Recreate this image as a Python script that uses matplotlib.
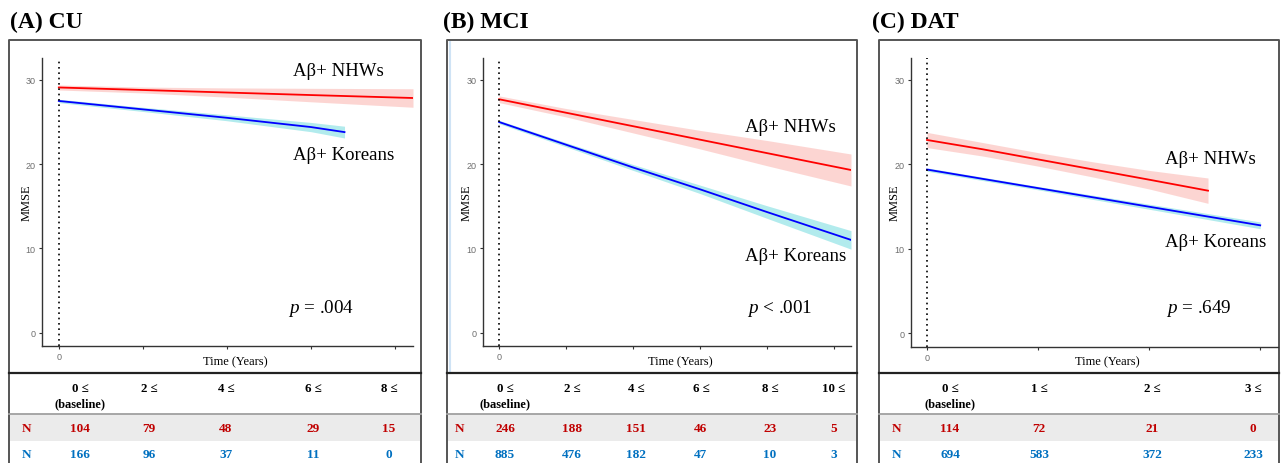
import numpy as np
import matplotlib
matplotlib.use('Agg')
import matplotlib.pyplot as plt
from matplotlib.patches import Rectangle

plt.rcParams['font.family'] = ['Liberation Serif', 'DejaVu Serif']
plt.rcParams['mathtext.fontset'] = 'custom'
plt.rcParams['mathtext.it'] = 'Liberation Serif:italic'
plt.rcParams['mathtext.rm'] = 'Liberation Serif'

W, H = 1282, 464

# ---- data ----
titles = ['(A) CU', '(B) MCI', '(C) DAT']
pvals = ['$p$ = .004', '$p$ < .001', '$p$ = .649']

# panel A
a_t_nhw = [0, 2, 4, 6, 8.43]
a_nhw = [29.1, 28.8, 28.5, 28.2, 27.85]
a_nhw_hw = [0.3, 0.35, 0.55, 0.8, 1.1]
a_t_kor = [0, 2, 4, 6, 6.8]
a_kor = [27.5, 26.5, 25.5, 24.4, 23.8]
a_kor_hw = [0.2, 0.25, 0.35, 0.55, 0.7]
a_ticks = [0, 2, 4, 6, 8]
a_head = ['0 \u2264', '2 \u2264', '4 \u2264', '6 \u2264', '8 \u2264']
a_n_nhw = [104, 79, 48, 29, 15]
a_n_kor = [166, 96, 37, 11, 0]

# panel B
b_t_nhw = [0, 2, 4, 6, 8, 10.5]
b_nhw = [27.7, 26.1, 24.5, 22.9, 21.3, 19.3]
b_nhw_hw = [0.4, 0.5, 0.8, 1.1, 1.5, 1.9]
b_t_kor = [0, 2, 4, 6, 8, 10.5]
b_kor = [25.0, 22.3, 19.6, 17.0, 14.3, 11.0]
b_kor_hw = [0.2, 0.25, 0.35, 0.5, 0.75, 1.1]
b_ticks = [0, 2, 4, 6, 8, 10]
b_head = ['0 \u2264', '2 \u2264', '4 \u2264', '6 \u2264', '8 \u2264', '10 \u2264']
b_n_nhw = [246, 188, 151, 46, 23, 5]
b_n_kor = [885, 476, 182, 47, 10, 3]

# panel C
c_t_nhw = [0, 0.5, 1, 1.5, 2, 2.53]
c_nhw = [22.9, 21.8, 20.6, 19.4, 18.2, 16.9]
c_nhw_hw = [0.9, 0.8, 0.8, 0.9, 1.1, 1.5]
c_t_kor = [0, 1, 2, 3]
c_kor = [19.4, 17.2, 15.0, 12.8]
c_kor_hw = [0.2, 0.2, 0.3, 0.4]
c_ticks = [0, 1, 2, 3]
c_head = ['0 \u2264', '1 \u2264', '2 \u2264', '3 \u2264']
c_n_nhw = [114, 72, 21, 0]
c_n_kor = [694, 583, 372, 233]

# ---- layout (pixels) ----
panels = [
    dict(box=(9, 421), ax=(42, 59, 413, 347), xlim=(-0.4, 8.43), title_x=10, mmse_x=27,
         nhw=(a_t_nhw, a_nhw, a_nhw_hw), kor=(a_t_kor, a_kor, a_kor_hw), ticks=a_ticks,
         lab_nhw=(293, 71), lab_kor=(293, 156), p=(288, 309), time_x=235,
         head=a_head, cols=[80, 149, 226, 313, 389], n_x=26, n1=a_n_nhw, n2=a_n_kor),
    dict(box=(447, 857), ax=(483, 59, 851, 347), xlim=(-0.48, 10.5), title_x=443, mmse_x=467,
         nhw=(b_t_nhw, b_nhw, b_nhw_hw), kor=(b_t_kor, b_kor, b_kor_hw), ticks=b_ticks,
         lab_nhw=(745, 128), lab_kor=(745, 257), p=(747, 309), time_x=680,
         head=b_head, cols=[505, 572, 636, 701, 770, 834], n_x=459, n1=b_n_nhw, n2=b_n_kor),
    dict(box=(879, 1279), ax=(911, 59, 1278, 348), xlim=(-0.144, 3.16), title_x=872, mmse_x=895,
         nhw=(c_t_nhw, c_nhw, c_nhw_hw), kor=(c_t_kor, c_kor, c_kor_hw), ticks=c_ticks,
         lab_nhw=(1165, 160), lab_kor=(1165, 243), p=(1166, 309), time_x=1107,
         head=c_head, cols=[950, 1039, 1152, 1253], n_x=896, n1=c_n_nhw, n2=c_n_kor),
]

red_txt = '#C00000'
blue_txt = '#0070C0'

fig = plt.figure(figsize=(W / 100, H / 100), dpi=100)
ov = fig.add_axes([0, 0, 1, 1])
ov.set_xlim(0, W)
ov.set_ylim(H, 0)
ov.axis('off')
ov.set_zorder(0)


def px_rect(x0, y0, x1, y1):
    return [x0 / W, 1 - y1 / H, (x1 - x0) / W, (y1 - y0) / H]


# faint blue edge inside panel B
ov.plot([449.5, 449.5], [43, 374], color='#CFE3F5', lw=1.5)

for i, P in enumerate(panels):
    bx0, bx1 = P['box']
    # title
    ov.text(P['title_x'], 22, titles[i], fontsize=17, fontweight='bold', ha='left', va='center')
    # table grey row
    ov.add_patch(Rectangle((bx0, 415), bx1 - bx0, 27, facecolor='#EBEBEB', edgecolor='none'))
    # box
    ov.plot([bx0, bx0, bx1, bx1], [466, 41, 41, 466], color='#555555', lw=1.4)
    ov.plot([bx0, bx1], [374, 374], color='#222222', lw=1.6)
    ov.plot([bx0, bx1], [415, 415], color='#A0A0A0', lw=1.3)

    # table text
    for j, (cx, h) in enumerate(zip(P['cols'], P['head'])):
        ov.text(cx, 389, h, fontsize=9.3, fontweight='bold', ha='center', va='center')
        ov.text(cx, 429, str(P['n1'][j]), fontsize=9.5, fontweight='bold', color=red_txt,
                ha='center', va='center')
        ov.text(cx, 455, str(P['n2'][j]), fontsize=9.5, fontweight='bold', color=blue_txt,
                ha='center', va='center')
    ov.text(P['cols'][0], 404, '(baseline)', fontsize=9, fontweight='bold', ha='center', va='center')
    ov.text(P['n_x'], 429, 'N', fontsize=9.5, fontweight='bold', color=red_txt, ha='center', va='center')
    ov.text(P['n_x'], 455, 'N', fontsize=9.5, fontweight='bold', color=blue_txt, ha='center', va='center')

    # labels in plot area
    ov.text(P['lab_nhw'][0], P['lab_nhw'][1], '\u0041\u03b2+ NHWs', fontsize=13.5, ha='left', va='center')
    ov.text(P['lab_kor'][0], P['lab_kor'][1], '\u0041\u03b2+ Koreans', fontsize=13.5, ha='left', va='center')
    ov.text(P['p'][0], P['p'][1], pvals[i], fontsize=13.8, ha='left', va='center')
    ov.text(P['mmse_x'], 203, 'MMSE', fontsize=9, rotation=90, ha='center', va='center')
    ov.text(P['time_x'], 362, 'Time (Years)', fontsize=9, ha='center', va='center')

    # plot axes
    ax = fig.add_axes(px_rect(*P['ax']))
    ax.set_facecolor('none')
    ax.set_zorder(1)
    for t, y, hw, lc, fc in [(P['nhw']) + ('#FF0000', '#F8766D'), (P['kor']) + ('#0000FF', '#00BFC4')]:
        t = np.array(t)
        y = np.array(y)
        hw = np.array(hw)
        ax.fill_between(t, y - hw, y + hw, color=fc, alpha=0.3, lw=0)
        ax.plot(t, y, color=lc, lw=1.3)
    ax.axvline(0, color='black', ls=(0, (1, 2.2)), lw=1.2)
    ax.set_xlim(*P['xlim'])
    ax.set_ylim(-1.6, 32.6)
    ax.set_xticks(P['ticks'])
    ax.set_xticklabels(['0'] + [''] * (len(P['ticks']) - 1))
    ax.set_yticks([0, 10, 20, 30])
    for s in ['top', 'right']:
        ax.spines[s].set_visible(False)
    for s in ['left', 'bottom']:
        ax.spines[s].set_color('#333333')
        ax.spines[s].set_linewidth(1.0)
    ax.tick_params(length=2.5, width=0.8, color='#333333', labelsize=6.5, labelcolor='#6E6E6E', pad=2)
    for lab in ax.get_xticklabels() + ax.get_yticklabels():
        lab.set_fontfamily(['Liberation Sans', 'DejaVu Sans'])

fig.savefig('out.png', dpi=100)
